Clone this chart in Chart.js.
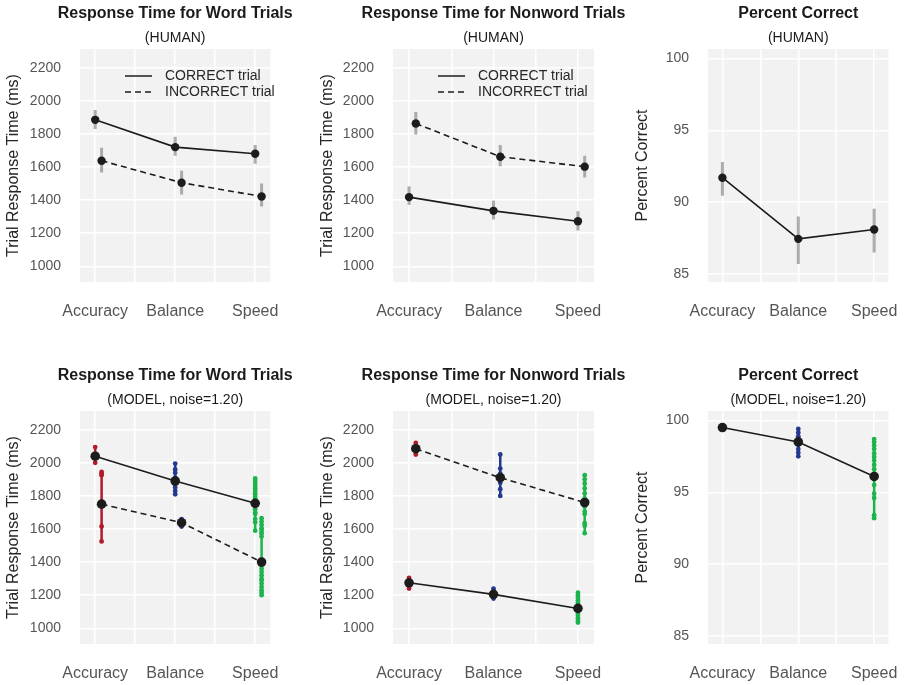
<!DOCTYPE html>
<html>
<head>
<meta charset="utf-8">
<script src="https://cdn.jsdelivr.net/npm/chart.js@4"></script>
<style>
  html, body { margin: 0; padding: 0; background: #fff; overflow: hidden; }
  body { position: relative; width: 918px; height: 685px; }
  canvas { position: absolute; }
</style>
</head>
<body>
<canvas id="c1" width="300" height="330" style="left:0;top:0"></canvas>
<canvas id="c2" width="316" height="330" style="left:314px;top:0"></canvas>
<canvas id="c3" width="289" height="330" style="left:629px;top:0"></canvas>
<canvas id="c4" width="300" height="330" style="left:0;top:362px"></canvas>
<canvas id="c5" width="316" height="330" style="left:314px;top:362px"></canvas>
<canvas id="c6" width="289" height="330" style="left:629px;top:362px"></canvas>
<script>
// categories, labels, ticks
const conditions = ['Accuracy', 'Balance', 'Speed'];
const trialLabels = ['CORRECT trial', 'INCORRECT trial'];
const rtTicks = [1000, 1200, 1400, 1600, 1800, 2000, 2200];
const pcTicks = [85, 90, 95, 100];

// HUMAN - means and error bar ends
const humanWordCorrect    = [1885, 1720, 1680];
const humanWordCorrectLo  = [1830, 1668, 1620];
const humanWordCorrectHi  = [1945, 1782, 1733];
const humanWordIncorrect   = [1638, 1505, 1422];
const humanWordIncorrectLo = [1566, 1434, 1361];
const humanWordIncorrectHi = [1716, 1578, 1500];

const humanNonwordCorrect    = [1418, 1335, 1272];
const humanNonwordCorrectLo  = [1371, 1283, 1216];
const humanNonwordCorrectHi  = [1483, 1397, 1333];
const humanNonwordIncorrect   = [1863, 1662, 1602];
const humanNonwordIncorrectLo = [1796, 1604, 1537];
const humanNonwordIncorrectHi = [1933, 1733, 1668];

const humanPercent   = [91.7, 87.45, 88.1];
const humanPercentLo = [90.45, 85.7, 86.5];
const humanPercentHi = [92.8, 89.0, 89.55];

// MODEL (noise=1.20) - means and per-run values
const modelWordCorrect   = [2040, 1890, 1755];
const modelWordIncorrect = [1750, 1638, 1400];
const modelWordCorrectRuns = [
  [2095, 2050, 2040, 2000],
  [1995, 1960, 1940, 1910, 1890, 1870, 1850, 1830, 1810],
  [1905, 1890, 1875, 1860, 1845, 1830, 1815, 1800, 1785, 1770, 1755, 1740, 1720, 1700, 1690, 1660, 1640, 1590]
];
const modelWordIncorrectRuns = [
  [1945, 1935, 1925, 1615, 1525],
  [1660, 1650, 1640, 1630, 1615],
  [1665, 1645, 1625, 1605, 1590, 1575, 1555, 1380, 1360, 1340, 1320, 1300, 1290, 1270, 1250, 1230, 1215, 1200]
];

const modelNonwordCorrect   = [1275, 1205, 1120];
const modelNonwordIncorrect = [2085, 1910, 1760];
const modelNonwordCorrectRuns = [
  [1305, 1290, 1270, 1255, 1240],
  [1240, 1225, 1205, 1190, 1180],
  [1215, 1200, 1185, 1170, 1155, 1140, 1120, 1105, 1090, 1075, 1060, 1045, 1035]
];
const modelNonwordIncorrectRuns = [
  [2120, 2100, 2085, 2065, 2050],
  [2050, 1965, 1935, 1880, 1840, 1800],
  [1925, 1900, 1875, 1845, 1815, 1785, 1760, 1735, 1705, 1690, 1635, 1620, 1575]
];

const modelPercent = [99.5, 98.5, 96.1];
const modelPercentRuns = [
  [99.55, 99.5, 99.45],
  [99.4, 99.15, 98.9, 98.6, 98.3, 98.0, 97.75, 97.5],
  [98.7, 98.5, 98.25, 98.0, 97.7, 97.45, 97.2, 96.9, 96.6, 96.3, 95.9, 95.5, 94.9, 94.6, 93.4, 93.2]
];

// styling
const INK = '#1c1c1c';
const FONT = "'Liberation Sans', Arial, sans-serif";
const runColors = ['#b3192a', '#24388f', '#1db34d'];
const DODGE = 0.08;
Chart.defaults.font.family = FONT;

const plotBg = {
  id: 'plotBg',
  beforeDraw(chart) {
    const a = chart.chartArea;
    chart.ctx.save();
    chart.ctx.fillStyle = '#f1f2f1';
    chart.ctx.fillRect(a.left, a.top, a.right - a.left, a.bottom - a.top);
    chart.ctx.restore();
  }
};

// title + subtitle centred over the plot area (may run wider than it)
const headings = {
  id: 'headings',
  afterDraw(chart, args, opts) {
    const {ctx, chartArea: a} = chart;
    const cx = (a.left + a.right) / 2;
    ctx.save();
    ctx.textAlign = 'center';
    ctx.textBaseline = 'middle';
    ctx.fillStyle = '#1a1a1a';
    ctx.font = 'bold 16px ' + FONT;
    ctx.fillText(opts.title, cx, 14);
    ctx.font = '14px ' + FONT;
    ctx.fillText(opts.subtitle, cx, 38.5);
    ctx.restore();
  }
};

// small line-style key drawn inside the plot
const lineKey = {
  id: 'lineKey',
  afterDraw(chart, args, opts) {
    if (!opts.show) return;
    const {ctx, chartArea: a} = chart;
    ctx.save();
    trialLabels.forEach((label, i) => {
      const y = a.top + 27 + i * 16;
      ctx.beginPath();
      ctx.setLineDash(i ? [6, 4] : []);
      ctx.strokeStyle = INK;
      ctx.lineWidth = 1.5;
      ctx.moveTo(a.left + 45, y);
      ctx.lineTo(a.left + 72, y);
      ctx.stroke();
      ctx.setLineDash([]);
      ctx.fillStyle = '#262626';
      ctx.font = '14px ' + FONT;
      ctx.textBaseline = 'middle';
      ctx.fillText(label, a.left + 85, y);
    });
    ctx.restore();
  }
};

function meanSet(values, dodge, dashed, radius) {
  return {
    data: values.map((v, i) => ({x: i + dodge, y: v})),
    showLine: true,
    borderColor: INK,
    backgroundColor: INK,
    borderWidth: 1.6,
    borderDash: dashed ? [6, 4] : [],
    pointRadius: radius,
    pointBorderWidth: 0,
    order: 0
  };
}

function barSets(lo, hi, dodge) {
  return lo.map((l, i) => ({
    data: [{x: i + dodge, y: l}, {x: i + dodge, y: hi[i]}],
    showLine: true,
    borderColor: 'rgba(140,140,140,0.7)',
    borderWidth: 3,
    pointRadius: 0,
    order: 2
  }));
}

function runSets(runs, dodge) {
  return runs.map((r, i) => ({
    data: r.map(v => ({x: i + dodge, y: v})),
    showLine: true,
    borderColor: runColors[i],
    backgroundColor: runColors[i],
    borderWidth: 2.5,
    pointRadius: 2.4,
    pointBorderWidth: 0,
    order: 1
  }));
}

function panel(id, title, subtitle, yTitle, yMin, yMax, yTicks, datasets, yWidth, rightPad, key) {
  new Chart(document.getElementById(id), {
    type: 'scatter',
    data: { datasets: datasets },
    plugins: [plotBg, headings, lineKey],
    options: {
      responsive: false,
      animation: false,
      events: [],
      layout: { padding: { left: 0, right: rightPad, top: 49, bottom: 0 } },
      plugins: {
        legend: { display: false },
        tooltip: { enabled: false },
        headings: { title: title, subtitle: subtitle },
        lineKey: { show: key }
      },
      scales: {
        x: {
          type: 'linear', min: -0.19, max: 2.19,
          afterBuildTicks: s => { s.ticks = [0, 0.5, 1, 1.5, 2].map(v => ({value: v})); },
          afterFit: s => { s.height = 48; },
          grid: { color: '#ffffff', lineWidth: 1.5, drawTicks: false },
          border: { display: false },
          ticks: {
            autoSkip: false, maxRotation: 0, padding: 20, color: '#555555',
            font: { size: 16 },
            callback: v => conditions[v] || ''
          }
        },
        y: {
          min: yMin, max: yMax,
          afterBuildTicks: s => { s.ticks = yTicks.map(v => ({value: v})); },
          afterFit: s => { s.width = yWidth; },
          grid: { color: '#ffffff', lineWidth: 1.5, drawTicks: false },
          border: { display: false },
          ticks: { padding: 19, color: '#555555', font: { size: 14 }, callback: v => String(v) },
          title: {
            display: true, text: yTitle, color: '#262626',
            font: { size: 16 }, padding: { top: 4, bottom: 0 }
          }
        }
      }
    }
  });
}

const RT = 'Trial Response Time (ms)';
const PC = 'Percent Correct';
const MODEL = '(MODEL, noise=1.20)';

panel('c1', 'Response Time for Word Trials', '(HUMAN)', RT, 905, 2313, rtTicks, [
  meanSet(humanWordCorrect, 0, false, 4.2),
  meanSet(humanWordIncorrect, DODGE, true, 4.2),
  ...barSets(humanWordCorrectLo, humanWordCorrectHi, 0),
  ...barSets(humanWordIncorrectLo, humanWordIncorrectHi, DODGE)
], 80, 21, true);

panel('c2', 'Response Time for Nonword Trials', '(HUMAN)', RT, 905, 2313, rtTicks, [
  meanSet(humanNonwordCorrect, 0, false, 4.2),
  meanSet(humanNonwordIncorrect, DODGE, true, 4.2),
  ...barSets(humanNonwordCorrectLo, humanNonwordCorrectHi, 0),
  ...barSets(humanNonwordIncorrectLo, humanNonwordIncorrectHi, DODGE)
], 79, 36, true);

panel('c3', 'Percent Correct', '(HUMAN)', PC, 84.45, 100.65, pcTicks, [
  meanSet(humanPercent, 0, false, 4.2),
  ...barSets(humanPercentLo, humanPercentHi, 0)
], 79, 9, false);

panel('c4', 'Response Time for Word Trials', MODEL, RT, 905, 2313, rtTicks, [
  meanSet(modelWordCorrect, 0, false, 4.8),
  meanSet(modelWordIncorrect, DODGE, true, 4.8),
  ...runSets(modelWordCorrectRuns, 0),
  ...runSets(modelWordIncorrectRuns, DODGE)
], 80, 21, false);

panel('c5', 'Response Time for Nonword Trials', MODEL, RT, 905, 2313, rtTicks, [
  meanSet(modelNonwordCorrect, 0, false, 4.8),
  meanSet(modelNonwordIncorrect, DODGE, true, 4.8),
  ...runSets(modelNonwordCorrectRuns, 0),
  ...runSets(modelNonwordIncorrectRuns, DODGE)
], 79, 36, false);

panel('c6', 'Percent Correct', MODEL, PC, 84.45, 100.65, pcTicks, [
  meanSet(modelPercent, 0, false, 4.8),
  ...runSets(modelPercentRuns, 0)
], 79, 9, false);
</script>
</body>
</html>
